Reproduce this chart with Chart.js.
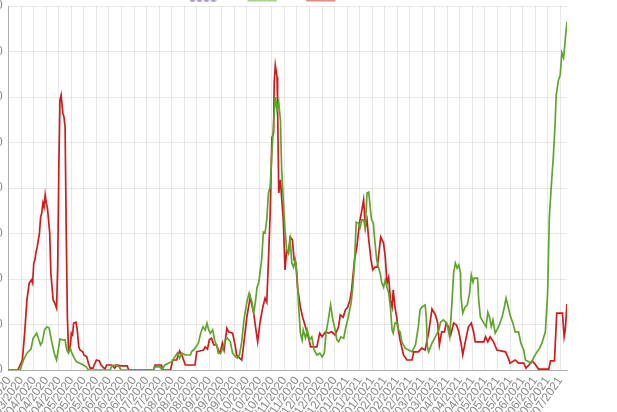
<!DOCTYPE html>
<html>
<head>
<meta charset="utf-8">
<script src="https://cdn.jsdelivr.net/npm/chart.js@4/dist/chart.umd.min.js"></script>
<style>
  html, body { margin: 0; padding: 0; width: 617px; height: 412px; overflow: hidden; background: #fff; }
  #wrap { position: absolute; left: -22px; top: -21px; }
</style>
</head>
<body>
<div id="wrap"><canvas id="chart" width="624" height="461"></canvas></div>
<script>
// day index 0 = 12/03/2020, one label every 11 days
const tickLabels = [
  "12/03/2020", "23/03/2020", "03/04/2020", "14/04/2020", "25/04/2020", "06/05/2020",
  "17/05/2020", "28/05/2020", "08/06/2020", "19/06/2020", "30/06/2020", "11/07/2020",
  "22/07/2020", "02/08/2020", "13/08/2020", "24/08/2020", "04/09/2020", "15/09/2020",
  "26/09/2020", "07/10/2020", "18/10/2020", "29/10/2020", "09/11/2020", "20/11/2020",
  "01/12/2020", "12/12/2020", "23/12/2020", "03/01/2021", "14/01/2021", "25/01/2021",
  "05/02/2021", "16/02/2021", "27/02/2021", "10/03/2021", "21/03/2021", "01/04/2021",
  "12/04/2021", "23/04/2021", "04/05/2021", "15/05/2021", "26/05/2021", "06/06/2021",
  "17/06/2021", "28/06/2021", "09/07/2021"
];
const lastDay = 490;

const legendLabels = ["S1", "S2", "S3"];

const redDays = [
  0, 8, 10, 12, 14, 16, 18, 20, 21, 22, 23, 24, 25, 27, 28, 29, 30, 31, 32, 33, 34, 36, 37, 39, 40, 41, 42, 43, 44, 45, 46,
  47.5, 48.5, 49.5, 50.5, 51.5, 52.5, 54, 55, 56, 57, 59, 60, 61.5, 62.5, 65, 66, 68.5, 70, 71.5, 74, 75, 77, 79.5, 81,
  84.5, 86, 90.5, 93, 95, 98, 104, 105, 106, 127, 128.5, 134, 135.5, 142, 144, 147.5, 150, 152, 155, 163.5, 165, 171,
  172.5, 174.5, 176, 178, 180, 182.5, 184.5, 185.5, 187.5, 189, 191.5, 193, 196.5, 199, 200, 204.5, 206, 209, 212, 215,
  217, 218.5, 220.5, 223, 225, 226.5, 228, 229.5, 231, 232.5, 233, 234, 235.5, 236, 237, 238.5, 239.5, 241, 242.5, 244,
  245.5, 247, 249, 250.5, 252, 253.5, 256, 258, 260, 262, 264, 265, 270.5, 273, 275, 278, 280.5, 283.5, 286.5, 289.5,
  291, 293.5, 295.5, 297.5, 299.5, 301, 303.5, 305.5, 308, 310, 311.5, 313, 314.5, 316, 318, 319.5, 321.5, 323.5, 325.5,
  326.5, 329, 330.5, 332, 333.5, 335, 336.5, 337.5, 339, 340.5, 342, 343.5, 346.5, 349.5, 354, 355.5, 359.5, 362.5,
  365.5, 368.5, 371.5, 374.5, 376.5, 378, 380, 382.5, 384, 386, 388, 390.5, 393, 395, 397, 398.5, 400.5, 403.5, 406,
  408, 409.5, 417, 418.5, 420.5, 422.5, 425.5, 428.5, 436, 438.5, 440, 444.5, 447.5, 452, 454, 456.5, 459.5, 462.5,
  465, 474, 475.5, 479, 481, 486, 487.5, 488.5, 490
];
const redValues = [
  0, 0, 11, 22, 81, 154, 191, 198, 191, 235, 242, 259, 270, 301, 336, 345, 367, 358, 385, 367, 356, 301, 213, 154, 149, 143, 136, 226, 446, 593, 604,
  565, 556, 534, 301, 116, 44, 51, 81, 77, 103, 105, 92, 51, 44, 40, 33, 29, 15, 4, 4, 11, 22, 20, 11,
  2, 11, 11, 4, 11, 9, 9, 2, 0, 0, 11, 11, 0, 0, 22, 22, 42, 33, 11, 11, 40, 44,
  51, 46, 66, 70, 55, 55, 40, 37, 59, 44, 92, 84, 81, 51, 33, 22, 51, 116, 160, 125,
  88, 62, 103, 138, 158, 149, 242, 345, 510, 521, 631, 670, 644, 578, 389, 418, 380, 330, 220, 264,
  257, 292, 286, 242, 235, 182, 138, 116, 99, 81, 62, 51, 51, 81, 73, 84, 81, 84, 77, 95,
  121, 116, 132, 138, 154, 176, 242, 270, 325, 352, 374, 314, 330, 286, 242, 220, 226, 226, 270,
  292, 279, 248, 191, 204, 154, 138, 176, 138, 116, 88, 66, 33, 22, 22, 40, 40, 48,
  44, 81, 134, 121, 103, 55, 84, 84, 103, 95, 77, 103, 99, 84, 59, 33, 59, 95, 103,
  84, 62, 62, 73, 62, 73, 62, 44, 40, 26, 15, 22, 15, 15, 4, 11, 20, 11,
  2, 2, 20, 20, 125, 125, 73, 88, 145
];

const greenDays = [
  0, 10, 13, 16, 19.5, 21.5, 23.5, 24.5, 26, 28, 29.5, 31.5, 33.5, 35.5, 38, 40, 42, 43.5, 45, 48, 49.5, 51, 52.5, 54,
  55.5, 57.5, 59.5, 62.5, 65.5, 68, 70, 89, 90.5, 94, 97, 98.5, 127, 128.5, 133, 134.5, 137, 140, 143, 146, 148, 150,
  152, 155, 159.5, 160.5, 163.5, 166.5, 168.5, 170.5, 172.5, 174, 175.5, 177, 179, 181, 182.5, 184, 186, 188, 190, 192,
  194.5, 196.5, 199, 201, 202.5, 204.5, 206.5, 209, 211, 213.5, 215, 216.5, 218, 219.5, 220.5, 222, 223.5, 225, 226.5,
  228, 229.5, 231, 232.5, 234, 235.5, 237, 238.5, 239.5, 241, 242.5, 244, 245.5, 247, 248.5, 250, 251.5, 253, 254.5,
  256, 257.5, 258.5, 260.5, 262, 264, 266, 268, 270.5, 273, 275, 277, 278.5, 280.5, 282.5, 284.5, 286.5, 288, 289.5,
  291.5, 294, 296, 298, 300.5, 302, 303.5, 305, 307, 308.5, 310, 311.5, 313, 314.5, 316, 317.5, 318.5, 320, 321.5, 323,
  324.5, 326, 327.5, 329, 330.5, 332, 333.5, 335, 336.5, 337.5, 339, 340.5, 342, 343.5, 345, 348, 351, 354, 357, 359.5,
  361, 362.5, 365.5, 366.5, 367.5, 368.5, 371.5, 374.5, 377.5, 379, 381.5, 384.5, 387, 389, 390.5, 392, 393.5, 395,
  396.5, 397, 398.5, 400.5, 402.5, 404.5, 406, 407.5, 408.5, 411.5, 412.5, 414, 417, 419, 420.5, 422, 423.5, 425, 427,
  430, 433, 435, 436.5, 438.5, 440, 442.5, 444.5, 447.5, 449.5, 452, 453.5, 456.5, 458.5, 460.5, 463, 466, 468, 471,
  473, 474.5, 476, 477, 478, 479.5, 480.5, 482.5, 484, 485.5, 487, 487.5, 489, 490
];
const greenValues = [
  0, 0, 22, 37, 46, 70, 77, 81, 70, 55, 62, 88, 95, 92, 59, 37, 22, 44, 68, 66, 66, 44, 37, 48,
  37, 26, 18, 15, 11, 7, 0, 0, 9, 11, 7, 0, 0, 7, 7, 0, 11, 15, 18, 29, 37, 26,
  37, 33, 33, 40, 48, 59, 81, 95, 88, 103, 88, 81, 88, 62, 55, 37, 37, 48, 66, 70,
  62, 37, 29, 26, 33, 62, 110, 149, 169, 149, 125, 149, 182, 193, 213, 242, 303, 301, 330,
  389, 402, 477, 543, 600, 571, 589, 549, 446, 374, 308, 264, 257, 286, 235, 226, 242, 213, 138,
  81, 66, 88, 70, 88, 66, 73, 44, 33, 37, 29, 37, 81, 110, 143, 110, 88, 66, 62,
  73, 70, 95, 116, 147, 182, 235, 325, 323, 314, 330, 330, 312, 389, 391, 352, 330, 323, 279, 242,
  226, 213, 191, 182, 198, 182, 169, 138, 88, 81, 103, 105, 88, 84, 62, 48, 44, 40, 55, 95,
  132, 138, 143, 116, 51, 40, 59, 73, 88, 105, 110, 103, 73, 147, 213, 235, 224, 231,
  213, 160, 125, 138, 143, 169, 209, 193, 202, 202, 154, 116, 103, 95, 127, 116, 95, 110, 81,
  95, 116, 138, 158, 138, 121, 103, 84, 84, 59, 44, 22, 18, 15, 26, 37, 48, 59, 84,
  169, 336, 396, 433, 468, 538, 604, 637, 648, 697, 686, 699, 741, 765
];

const toPoints = (days, values) => days.map((d, i) => ({ x: d, y: values[i] }));

const ctx = document.getElementById("chart").getContext("2d");
new Chart(ctx, {
  type: "line",
  data: {
    datasets: [
      {
        label: legendLabels[0],
        data: [],
        borderColor: "#9a8cb4",
        backgroundColor: "rgba(190,180,215,0.5)",
        borderDash: [4, 3],
        borderWidth: 1.5,
      },
      {
        label: legendLabels[1],
        data: toPoints(greenDays, greenValues),
        borderColor: "#5fa52d",
        backgroundColor: "rgba(95,165,45,0.35)",
        borderWidth: 1.7,
        pointRadius: 0,
        tension: 0,
      },
      {
        label: legendLabels[2],
        data: toPoints(redDays, redValues),
        borderColor: "#cc1c1c",
        backgroundColor: "rgba(204,28,28,0.35)",
        borderWidth: 1.7,
        pointRadius: 0,
        tension: 0,
      },
    ],
  },
  options: {
    responsive: false,
    animation: false,
    layout: { padding: { right: 35 } },
    plugins: {
      legend: {
        maxHeight: 27,
        labels: {
          boxWidth: 28,
          color: "#666",
          font: { size: 12 },
          generateLabels: (chart) =>
            Chart.defaults.plugins.legend.labels.generateLabels(chart).map((item, i) =>
              i === 0 ? item : { ...item, strokeStyle: item.fillStyle }),
        },
      },
      tooltip: { enabled: false },
    },
    scales: {
      x: {
        type: "linear",
        min: 0,
        max: lastDay,
        afterBuildTicks: (s) => { s.ticks = tickLabels.map((_, i) => ({ value: i * 11 })); },
        afterFit: (s) => { s.height = 70; s.paddingLeft = 0; s.paddingRight = 0; },
        grid: { color: "rgba(0,0,0,0.09)", drawTicks: false },
        border: { color: "rgba(0,0,0,0.25)" },
        ticks: {
          autoSkip: false,
          minRotation: 55,
          maxRotation: 55,
          padding: 4,
          color: "#888",
          font: { size: 12 },
          callback: (v) => tickLabels[Math.round(v / 11)],
        },
      },
      y: {
        min: 0,
        max: 800,
        afterFit: (s) => { s.width = 30.7; },
        grid: { color: "rgba(0,0,0,0.09)", drawTicks: false },
        border: { color: "rgba(0,0,0,0.25)" },
        ticks: { stepSize: 100, padding: 6, color: "#888", font: { size: 12 } },
      },
    },
  },
});
</script>
</body>
</html>
